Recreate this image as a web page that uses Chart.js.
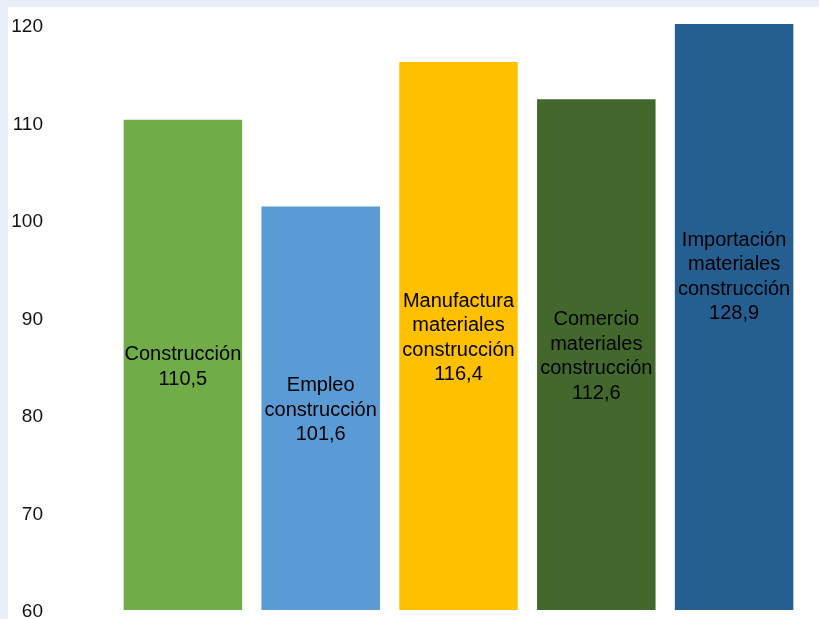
<!DOCTYPE html>
<html>
<head>
<meta charset="utf-8">
<script src="https://cdn.jsdelivr.net/npm/chart.js@4/dist/chart.umd.min.js"></script>
<style>
  html, body { margin: 0; padding: 0; overflow: hidden; background: #eaeef8; }
  .panel { position: absolute; left: 8px; top: 7px; width: 811px; height: 630px; background: #ffffff; }
  canvas { display: block; }
</style>
</head>
<body>
<div class="panel">
  <canvas id="bar-chart" width="811" height="630"></canvas>
</div>
<script>
// Indicator names (one entry per line of the in-bar label)
const categories = [
  ['Construcción'],
  ['Empleo', 'construcción'],
  ['Manufactura', 'materiales', 'construcción'],
  ['Comercio', 'materiales', 'construcción'],
  ['Importación', 'materiales', 'construcción']
];
const values = [110.5, 101.6, 116.4, 112.6, 128.9];
const barColors = ['#70ad47', '#5b9bd5', '#ffc000', '#43682b', '#255e91'];
const yTicks = [60, 70, 80, 90, 100, 110, 120];

const FONT = '"Liberation Sans", Arial, sans-serif';

// Writes the name and value centred on each bar, between its top and the axis minimum
const barLabels = {
  id: 'barLabels',
  afterDatasetsDraw(chart) {
    const ctx = chart.ctx;
    const meta = chart.getDatasetMeta(0);
    const yScale = chart.scales.y;
    const base = yScale.getPixelForValue(yScale.min);
    ctx.save();
    ctx.font = '20px ' + FONT;
    ctx.fillStyle = '#000000';
    ctx.textAlign = 'center';
    ctx.textBaseline = 'middle';
    const lineH = 24.5;
    meta.data.forEach((bar, i) => {
      const lines = categories[i].concat([values[i].toFixed(1).replace('.', ',')]);
      const mid = (yScale.getPixelForValue(values[i]) + base) / 2 + 1;
      const start = mid - (lines.length - 1) * lineH / 2;
      lines.forEach((t, j) => ctx.fillText(t, bar.x, start + j * lineH));
    });
    ctx.restore();
  }
};

const ctx = document.getElementById('bar-chart').getContext('2d');
new Chart(ctx, {
  type: 'bar',
  data: {
    labels: categories.map(c => c.join(' ')),
    datasets: [{
      data: values,
      backgroundColor: barColors,
      borderWidth: 0,
      categoryPercentage: 1,
      barPercentage: 0.86,
      clip: { left: 0, right: 0, top: 3, bottom: -2 }
    }]
  },
  options: {
    responsive: false,
    animation: false,
    layout: { padding: { left: 0, right: 16, top: 20, bottom: 25 } },
    plugins: {
      legend: { display: false },
      tooltip: { enabled: false }
    },
    scales: {
      x: {
        display: false
      },
      y: {
        min: 60,
        max: 120,
        afterFit: scale => {
          scale.width = 106;
          scale.paddingTop = 0;
          scale.paddingBottom = 0;
        },
        afterBuildTicks: scale => { scale.ticks = yTicks.map(v => ({ value: v })); },
        grid: { display: false, drawTicks: false },
        border: { display: false },
        ticks: {
          padding: 71,
          color: '#111111',
          font: { family: FONT, size: 19 }
        }
      }
    }
  },
  plugins: [barLabels]
});
</script>
</body>
</html>
